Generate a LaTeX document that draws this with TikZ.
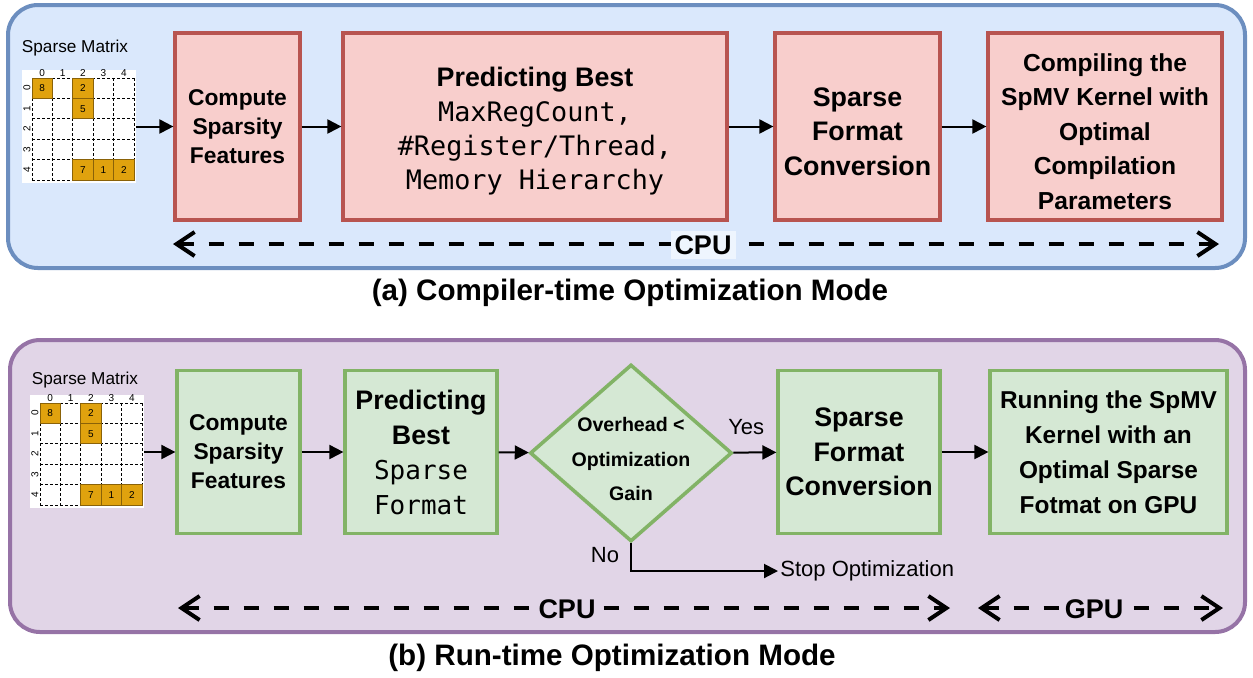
\documentclass[tikz,border=0pt]{standalone}
\usepackage{fontspec}
\setmainfont{Liberation Sans}
\setmonofont{DejaVu Sans Mono}
\usetikzlibrary{arrows.meta,shapes.geometric}

\definecolor{cpuback}{HTML}{DAE8FC}
\definecolor{cpuline}{HTML}{6C8EBF}
\definecolor{runback}{HTML}{E1D5E7}
\definecolor{runline}{HTML}{9673A6}
\definecolor{redfill}{HTML}{F8CECC}
\definecolor{redline}{HTML}{B85450}
\definecolor{greenfill}{HTML}{D5E8D4}
\definecolor{greenline}{HTML}{82B366}
\definecolor{nzfill}{HTML}{E0A20E}
\definecolor{nzline}{HTML}{8A6208}

\tikzset{
  matbg/.style={fill=white, minimum width=57pt, minimum height=56.5pt, inner sep=0pt},
  cellgrid/.style={black, line width=0.45pt, dash pattern=on 1.5pt off 1pt},
  nzcell/.style={draw=nzline, fill=nzfill, line width=0.5pt, minimum size=10.2pt, inner sep=0pt, font=\fontsize{5}{6}\selectfont},
  idx/.style={inner sep=0pt, font=\fontsize{5}{6}\selectfont},
  % 5x5 sparse matrix, origin at the top left cell
  spmat/.pic={
    \node[matbg] (-bg) at (47,48.5) {};
    \foreach \i in {0,...,5} {
      \draw[cellgrid] (\i*20.4,0) -- (\i*20.4,102);
      \draw[cellgrid] (0,\i*20.4) -- (102,\i*20.4);
    }
    \foreach \r/\c/\v in {0/0/8,0/2/2,1/2/5,4/2/7,4/3/1,4/4/2}
      \node[nzcell] at (\c*20.4+10.2,\r*20.4+10.2) {\v};
    \foreach \i in {0,...,4} {
      \node[idx] at (\i*20.4+10.2,-5) {\i};
      \node[idx,rotate=90] at (-5,\i*20.4+10.2) {\i};
    }
  }
}

\begin{document}
\begin{tikzpicture}[x=0.5pt, y=-0.5pt,
  stage/.style={draw, line width=1.6pt, align=center, inner sep=2pt},
  redstage/.style={stage, draw=redline, fill=redfill, minimum height=93.5pt},
  greenstage/.style={stage, draw=greenline, fill=greenfill, minimum height=81.5pt},
  flow/.style={-{Triangle[length=7pt,width=7pt]}, line width=1pt},
  span/.style={{Straight Barb[length=9pt,width=12pt]}-{Straight Barb[length=9pt,width=12pt]}, line width=2pt, dash pattern=on 7.5pt off 7.5pt},
  spanlbl/.style={inner sep=2pt, font=\bfseries\fontsize{13.5}{16}\selectfont},
  caption/.style={font=\bfseries\fontsize{14.8}{18}\selectfont},
  lbl/.style={inner sep=1pt, font=\fontsize{11}{13}\selectfont}]
\useasboundingbox (0,0) rectangle (1253,677);

% panels
\draw[line width=2pt, draw=cpuline, fill=cpuback, rounded corners=15pt] (8,5) rectangle (1245,268);
\draw[line width=2pt, draw=runline, fill=runback, rounded corners=15pt] (10,340) rectangle (1245,632);
\node[caption] (capa) at (630,293) {(a) Compiler-time Optimization Mode};
\node[caption] (capb) at (612,658) {(b) Run-time Optimization Mode};

%% compiler-time flow
\node[lbl, font=\fontsize{8.6}{10}\selectfont] (topname) at (75,48) {Sparse Matrix};
\pic (topmat) at (32,78) {spmat};
\node[redstage, minimum width=62.5pt, font=\bfseries\fontsize{11.4}{14.5}\selectfont] (cfeat) at (237.5,126.5) {Compute\\Sparsity\\Features};
\node[redstage, minimum width=192pt, font=\fontsize{13.4}{17.2}\selectfont] (pbest) at (535,126.5)
  {\rule{0pt}{14.6pt}\textbf{Predicting Best}\\\texttt{MaxRegCount,}\\\texttt{\#Register/Thread,}\\\texttt{Memory Hierarchy}};
\node[redstage, minimum width=82.5pt, font=\bfseries\fontsize{13.4}{17.2}\selectfont] (cconv) at (857.5,126.5) {\rule{0pt}{14.6pt}Sparse\\Format\\Conversion};
\node[redstage, minimum width=117pt, font=\bfseries\fontsize{12.3}{17.2}\selectfont] (compile) at (1105,126.5)
  {\rule{0pt}{14pt}Compiling the\\SpMV Kernel with\\Optimal\\Compilation\\Parameters};

\draw[flow] (topmat-bg.east |- cfeat) -- (cfeat);
\path[flow]
(cfeat) edge (pbest)
(pbest) edge (cconv)
(cconv) edge (compile);

\coordinate (cpuA) at (173,244);
\coordinate (cpuB) at (1219,244);
\draw[span] (cpuA) -- (cpuB);
\node[spanlbl, fill=white!55!cpuback] (cpu) at (703,245) {CPU};

%% run-time flow
\node[lbl, font=\fontsize{8.6}{10}\selectfont] (botname) at (85,380) {Sparse Matrix};
\pic (botmat) at (40,403) {spmat};
\node[greenstage, minimum width=61.5pt, font=\bfseries\fontsize{11.4}{14.5}\selectfont] (rfeat) at (238.5,452) {Compute\\Sparsity\\Features};
\node[greenstage, minimum width=76pt, font=\fontsize{13.4}{17.5}\selectfont] (rbest) at (421,452)
  {\textbf{Predicting}\\\textbf{Best}\\\texttt{\fontsize{13}{17.5}\selectfont Sparse}\\\texttt{\fontsize{13}{17.5}\selectfont Format}};
\node[diamond, draw=greenline, fill=greenfill, line width=1.8pt, inner sep=0pt, minimum width=101pt, minimum height=88.5pt] (gain) at (631,453) {};
\node[align=center, inner sep=0pt, font=\bfseries\fontsize{9.8}{17.2}\selectfont] (gaintxt) at (631,459) {Overhead <\\Optimization\\Gain};
\node[greenstage, minimum width=81pt, font=\bfseries\fontsize{13.4}{17.2}\selectfont] (rconv) at (859,452) {Sparse\\Format\\Conversion};
\node[greenstage, minimum width=118.5pt, font=\bfseries\fontsize{12.2}{17.5}\selectfont] (run) at (1108.5,452)
  {Running the SpMV\\Kernel with an\\Optimal Sparse\\Fotmat on GPU};
\node[lbl, anchor=west] (stop) at (778,571) {Stop Optimization};
\node[lbl] (no) at (605,555) {No};

\draw[flow] (botmat-bg.east |- rfeat) -- (rfeat);
\path[flow]
(rfeat) edge (rbest)
(rbest) edge (gain)
(gain) edge node[lbl, above=7.5pt, pos=0.3] (yes) {Yes} (rconv)
(rconv) edge (run);
\draw[flow] (gain.south) |- (stop.west);

\coordinate (rcpuA) at (178,608);
\coordinate (rcpuB) at (950,608);
\coordinate (gpuA) at (978,608);
\coordinate (gpuB) at (1223,608);
\draw[span] (rcpuA) -- (rcpuB);
\draw[span] (gpuA) -- (gpuB);
\node[spanlbl, fill=runback] (rcpu) at (567,609) {CPU};
\node[spanlbl, fill=runback] (gpu) at (1094,609) {GPU};
\end{tikzpicture}
\end{document}
